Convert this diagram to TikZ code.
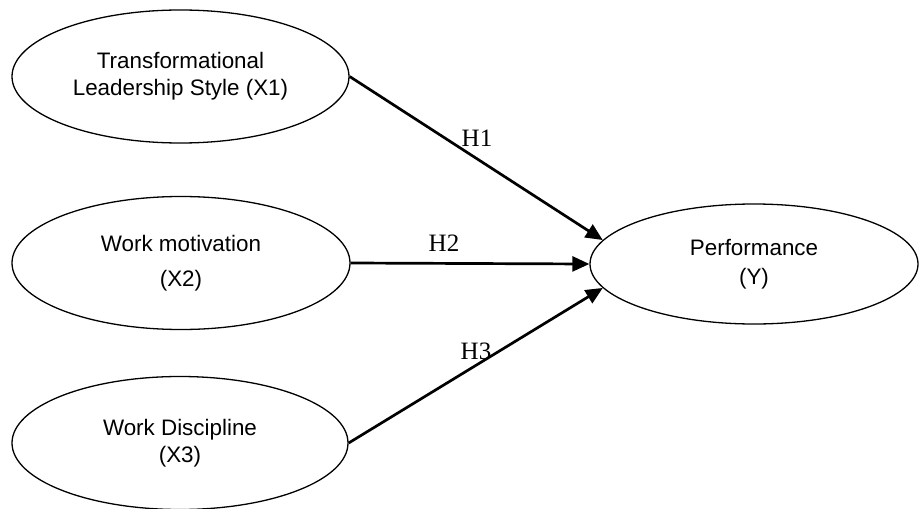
\documentclass[tikz,border=0pt]{standalone}
\usepackage{fontspec}
\setmainfont{Liberation Sans}
\newfontfamily\hypfont{Liberation Serif}
\usetikzlibrary{shapes.geometric,arrows.meta}

\begin{document}
\begin{tikzpicture}[x=0.5pt,y=-0.5pt,
		latent/.style={draw,ellipse,line width=0.65pt,inner sep=0pt,align=center,
			font=\fontsize{11.2}{13.5}\selectfont},
		hyp/.style={line width=1.35pt,-{Triangle[length=8.5pt,width=7.5pt]}},
		hlabel/.style={font=\hypfont\fontsize{12.5}{14}\selectfont,inner sep=0pt}]
				\useasboundingbox (0,0) rectangle (919,508);
				\node[latent,minimum width=168.5pt,minimum height=66.5pt] (x1) at (180.5,76.5) {Transformational\\Leadership Style (X1)};
				\node[latent,minimum width=169pt,minimum height=66.5pt] (x2) at (181,263) {Work motivation\\[4pt](X2)};
				\node[latent,minimum width=168pt,minimum height=66.5pt] (x3) at (180,443) {Work Discipline\\(X3)};
				\node[latent,minimum width=164pt,minimum height=60pt] (y) at (754,264) {Performance\\[1pt](Y)};
				\draw[hyp] (x1.east) -- (y.171);
				\draw[hyp] (x2.east) -- (y.west);
				\draw[hyp] (x3.east) -- (y.189);
				\node[hlabel] (h1) at (477,138) {H1};
				\node[hlabel] (h2) at (444,243) {H2};
				\node[hlabel] (h3) at (476,351) {H3};
			\end{tikzpicture}
\end{document}
